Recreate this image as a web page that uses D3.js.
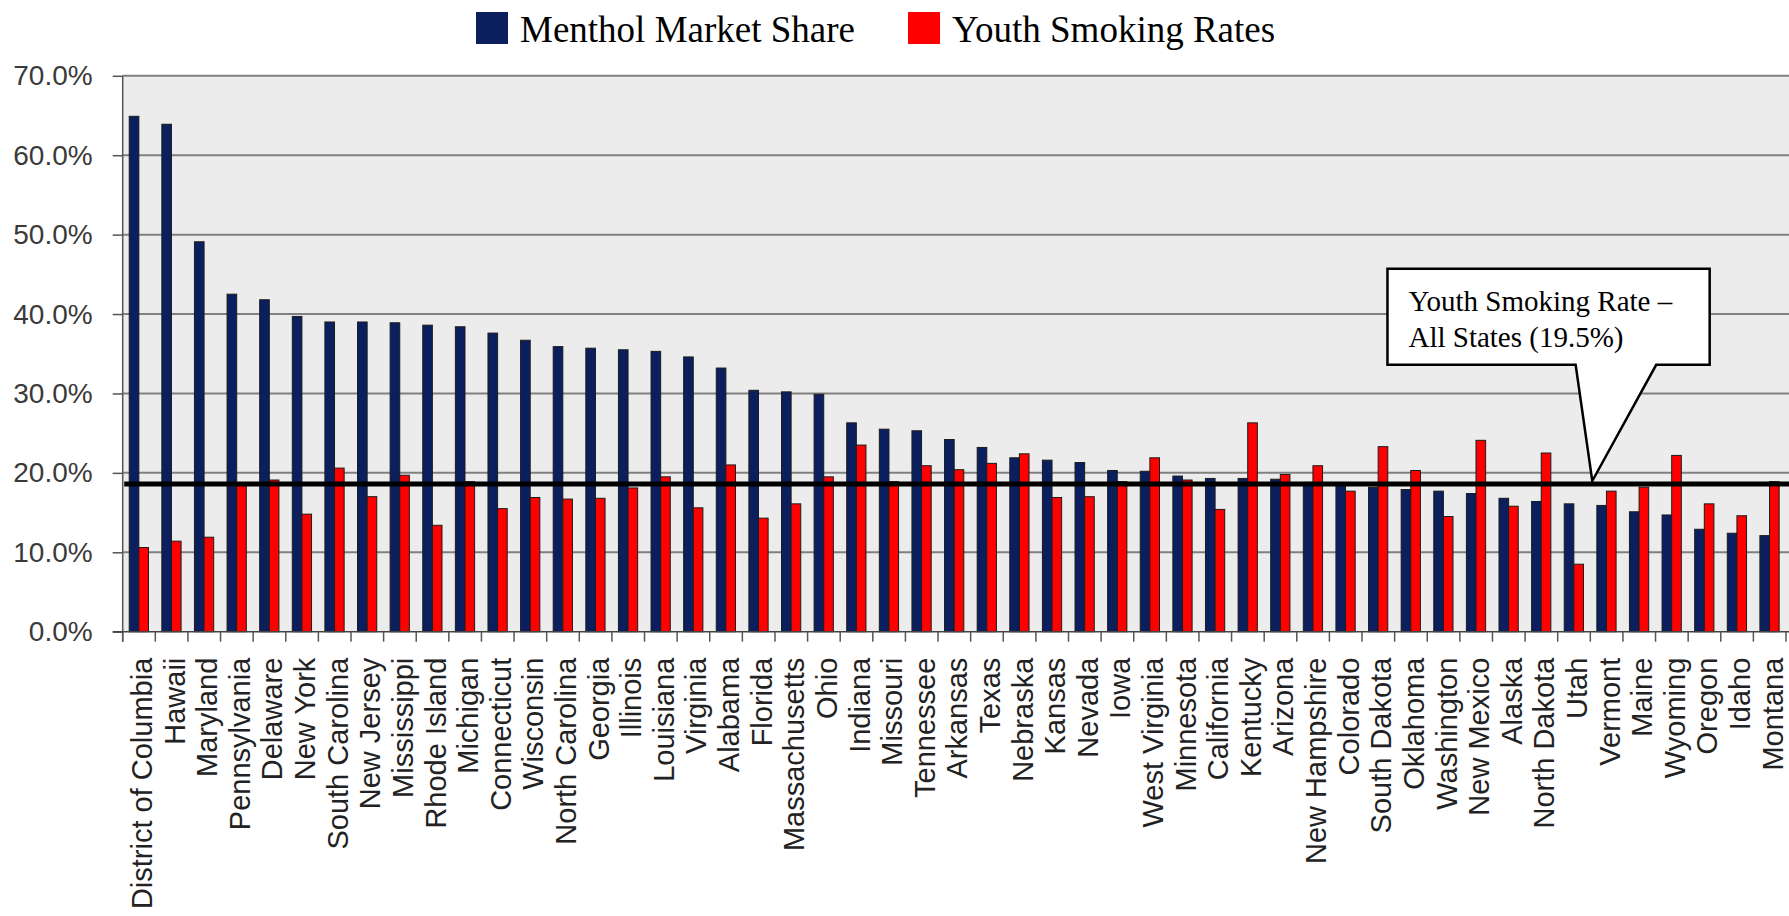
<!DOCTYPE html>
<html>
<head>
<meta charset="utf-8">
<script src="https://cdn.jsdelivr.net/npm/d3@7/dist/d3.min.js"></script>
<style>
  html, body { margin: 0; padding: 0; background: #ffffff; }
  svg { display: block; }
</style>
</head>
<body>
<svg id="chart" width="1789" height="916"></svg>
<script>
// ---------- DATA ----------
const states = ["District of Columbia","Hawaii","Maryland","Pennsylvania","Delaware","New York","South Carolina","New Jersey","Mississippi","Rhode Island","Michigan","Connecticut","Wisconsin","North Carolina","Georgia","Illinois","Louisiana","Virginia","Alabama","Florida","Massachusetts","Ohio","Indiana","Missouri","Tennessee","Arkansas","Texas","Nebraska","Kansas","Nevada","Iowa","West Virginia","Minnesota","California","Kentucky","Arizona","New Hampshire","Colorado","South Dakota","Oklahoma","Washington","New Mexico","Alaska","North Dakota","Utah","Vermont","Maine","Wyoming","Oregon","Idaho","Montana"];

const mentholShare = [64.9,63.9,49.1,42.5,41.8,39.7,39.0,39.0,38.9,38.6,38.4,37.6,36.7,35.9,35.7,35.5,35.3,34.6,33.2,30.4,30.2,29.9,26.3,25.5,25.3,24.2,23.2,21.9,21.6,21.3,20.3,20.2,19.6,19.3,19.3,19.2,18.8,18.4,18.2,17.9,17.7,17.4,16.8,16.4,16.1,15.9,15.1,14.7,12.9,12.4,12.1];

const youthRates = [10.6,11.4,11.9,18.4,19.1,14.8,20.6,17.0,19.7,13.4,18.9,15.5,16.9,16.7,16.8,18.1,19.5,15.6,21.0,14.3,16.1,19.5,23.5,18.9,20.9,20.4,21.2,22.4,16.9,17.0,18.9,21.9,19.1,15.4,26.3,19.8,20.9,17.7,23.3,20.3,14.5,24.1,15.8,22.5,8.5,17.7,18.2,22.2,16.1,14.6,18.9];

const seriesNames = ["Menthol Market Share","Youth Smoking Rates"];
const seriesColors = ["#0b1f5e","#ff0000"];
const yTicks = [0,10,20,30,40,50,60,70];
const averageLineValue = 18.6;           // drawn position of the "all states" line
const calloutLines = ["Youth Smoking Rate \u2013","All States (19.5%)"];

// ---------- LAYOUT ----------
const svg = d3.select("#chart");
const plotLeft = 122.7, plotRight = 1786, plotTop = 75.8, plotBottom = 631.7;

const y = d3.scaleLinear().domain([0,70]).range([plotBottom, plotTop]);
const x0 = d3.scaleBand().domain(states).range([plotLeft, plotRight]).padding(0);
const bw = x0.bandwidth();
const x1 = d3.scaleBand().domain(seriesNames).range([bw*0.2, bw*0.79]).padding(0);

// plot background
svg.append("rect")
  .attr("x", plotLeft).attr("y", plotTop)
  .attr("width", 1789 - plotLeft).attr("height", plotBottom - plotTop)
  .attr("fill", "#ececec");

// gridlines
svg.append("g").selectAll("line")
  .data(yTicks.filter(d => d > 0))
  .join("line")
  .attr("x1", plotLeft).attr("x2", 1789)
  .attr("y1", d => y(d)).attr("y2", d => y(d))
  .attr("stroke", "#808080").attr("stroke-width", 2);

// y axis
const yAxis = d3.axisLeft(y).tickValues(yTicks)
  .tickFormat(d => d.toFixed(1) + "%")
  .tickSize(10).tickPadding(20);
const gy = svg.append("g").attr("transform", `translate(${plotLeft},0)`).call(yAxis);
gy.select(".domain").remove();
gy.selectAll(".tick line").attr("stroke", "#555").attr("stroke-width", 1.5);
gy.selectAll(".tick text")
  .attr("font-family", "'Liberation Sans', Arial, sans-serif")
  .attr("font-size", 28).attr("fill", "#3a3a3a");

// bars
const groups = svg.append("g").selectAll("g")
  .data(states.map((s,i) => ({state: s, vals: [mentholShare[i], youthRates[i]]})))
  .join("g")
  .attr("transform", d => `translate(${x0(d.state)},0)`);

groups.selectAll("rect")
  .data(d => d.vals.map((v,k) => ({key: seriesNames[k], v, k})))
  .join("rect")
  .attr("x", d => x1(d.key))
  .attr("width", x1.bandwidth())
  .attr("y", d => y(d.v))
  .attr("height", d => y(0) - y(d.v))
  .attr("fill", d => seriesColors[d.k])
  .attr("stroke", "#1c1c1c").attr("stroke-width", 1);

// left axis line
svg.append("line")
  .attr("x1", plotLeft).attr("x2", plotLeft)
  .attr("y1", plotTop).attr("y2", plotBottom + 10)
  .attr("stroke", "#555").attr("stroke-width", 1.5);

// bottom axis line
svg.append("line")
  .attr("x1", plotLeft - 10).attr("x2", 1789)
  .attr("y1", plotBottom).attr("y2", plotBottom)
  .attr("stroke", "#444").attr("stroke-width", 1.5);

// category tick marks at band boundaries
const boundaries = states.map(s => x0(s)).concat([x0(states[states.length-1]) + bw]);
svg.append("g").selectAll("line")
  .data(boundaries)
  .join("line")
  .attr("x1", d => d).attr("x2", d => d)
  .attr("y1", plotBottom).attr("y2", plotBottom + 10)
  .attr("stroke", "#555").attr("stroke-width", 1.5);

// category labels (rotated)
svg.append("g").selectAll("text")
  .data(states)
  .join("text")
  .attr("transform", d => `translate(${x0(d) + bw/2 + 13},${plotBottom + 26}) rotate(-90)`)
  .attr("text-anchor", "end")
  .attr("font-family", "'Liberation Sans', Arial, sans-serif")
  .attr("font-size", 29)
  .attr("fill", "#222")
  .text(d => d);

// average line
svg.append("line")
  .attr("x1", plotLeft + 1.5).attr("x2", 1789)
  .attr("y1", y(averageLineValue)).attr("y2", y(averageLineValue))
  .attr("stroke", "#000").attr("stroke-width", 5);

// callout (positioned in data coordinates)
const boxL = x0("South Dakota") + bw*0.78, boxR = x0("Oregon") + bw*0.66;
const boxT = y(45.7), boxB = y(33.6);
const ptrL = x0("Utah") + bw*0.55, ptrR = x0("Wyoming") + bw*0.02;
const tipX = x0("Vermont") + bw*0.06, tipY = y(averageLineValue) - 3;
const calloutPath = d3.path();
calloutPath.moveTo(boxL, boxT);
calloutPath.lineTo(boxR, boxT);
calloutPath.lineTo(boxR, boxB);
calloutPath.lineTo(ptrR, boxB);
calloutPath.lineTo(tipX, tipY);
calloutPath.lineTo(ptrL, boxB);
calloutPath.lineTo(boxL, boxB);
calloutPath.closePath();
svg.append("path").attr("d", calloutPath.toString())
  .attr("fill", "#ffffff").attr("stroke", "#000").attr("stroke-width", 2.5)
  .attr("stroke-linejoin", "miter");

svg.append("g").selectAll("text")
  .data(calloutLines)
  .join("text")
  .attr("x", boxL + 21)
  .attr("y", (d,i) => boxT + 42 + i*36)
  .attr("font-family", "'Liberation Serif', 'Times New Roman', serif")
  .attr("font-size", 29).attr("fill", "#000")
  .text(d => d);

// legend
const legendX = [476, 908];
const legend = svg.append("g").selectAll("g")
  .data(seriesNames)
  .join("g")
  .attr("transform", (d,i) => `translate(${legendX[i]},12)`);
legend.append("rect")
  .attr("width", 32).attr("height", 32)
  .attr("fill", (d,i) => seriesColors[i]);
legend.append("text")
  .attr("x", 44).attr("y", 30)
  .attr("font-family", "'Liberation Serif', 'Times New Roman', serif")
  .attr("font-size", 37).attr("fill", "#000")
  .text(d => d);
</script>
</body>
</html>
